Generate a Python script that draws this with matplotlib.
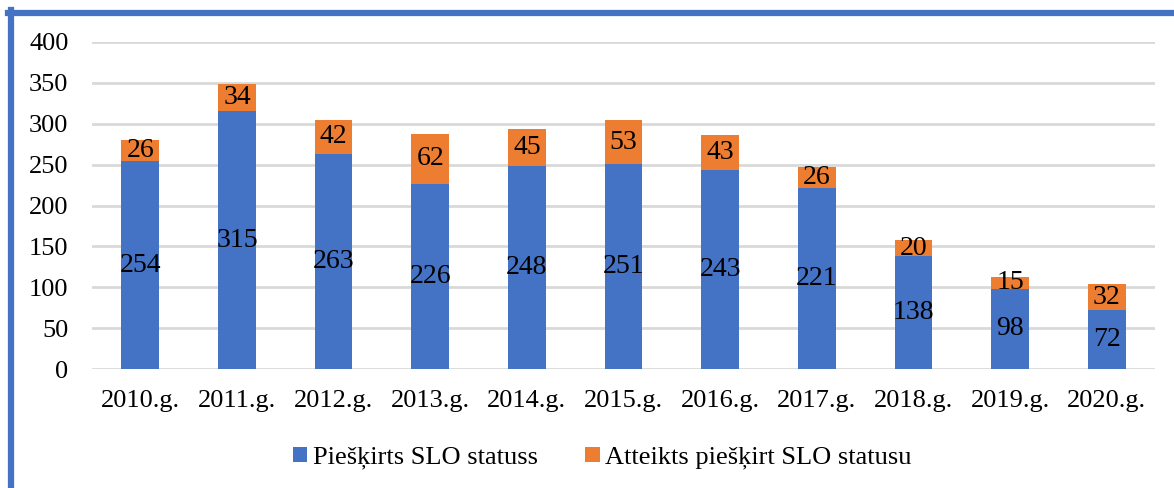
import matplotlib.pyplot as plt
from matplotlib.lines import Line2D
import numpy as np

years = ['2010.g.', '2011.g.', '2012.g.', '2013.g.', '2014.g.', '2015.g.',
         '2016.g.', '2017.g.', '2018.g.', '2019.g.', '2020.g.']
granted = [254, 315, 263, 226, 248, 251, 243, 221, 138, 98, 72]
refused = [26, 34, 42, 62, 45, 53, 43, 26, 20, 15, 32]
yticks = [0, 50, 100, 150, 200, 250, 300, 350, 400]

blue = '#4472C4'
orange = '#ED7D31'

plt.rcParams['font.family'] = ['Liberation Serif', 'DejaVu Serif']
fs = 19

fig = plt.figure(figsize=(11.74, 4.88), dpi=100)
ax = fig.add_axes((92/1174, 1 - 369/488, (1155-92)/1174, (369-42)/488))

x = np.arange(len(years))
b1 = ax.bar(x, granted, width=0.39, color=blue, label='Piešķirts SLO statuss', zorder=3)
b2 = ax.bar(x, refused, width=0.39, bottom=granted, color=orange,
            label='Atteikts piešķirt SLO statusu', zorder=3)
ax.bar_label(b1, labels=[str(v) for v in granted], label_type='center', fontsize=20)
ax.bar_label(b2, labels=[str(v) for v in refused], label_type='center', fontsize=20)

ax.set_xlim(-0.5, len(years) - 0.5)
ax.set_ylim(0, 400)
ax.set_yticks(yticks)
ax.set_xticks(x)
ax.set_xticklabels(years)
ax.tick_params(axis='both', length=0, labelsize=fs)
ax.tick_params(axis='y', pad=17)
ax.tick_params(axis='x', pad=15)
ax.grid(axis='y', color='#D9D9D9', linewidth=2, zorder=0)
for s in ax.spines.values():
    s.set_visible(False)

ax.legend(loc='center', bbox_to_anchor=(602/1174, 1 - 458/488), bbox_transform=fig.transFigure,
          ncol=2, frameon=False, fontsize=fs, handlelength=0.55, handleheight=0.55,
          handletextpad=0.2, columnspacing=1.8)

# blue frame round the chart (only left and top edges visible)
fy = 1 - 13/488
fx = 11/1174
fig.add_artist(Line2D([fx, fx], [0, fy + 3/488], color=blue, linewidth=4.5, transform=fig.transFigure))
fig.add_artist(Line2D([fx - 3/1174, 1], [fy, fy], color=blue, linewidth=4.5, transform=fig.transFigure))

fig.savefig('out.png', dpi=100)
